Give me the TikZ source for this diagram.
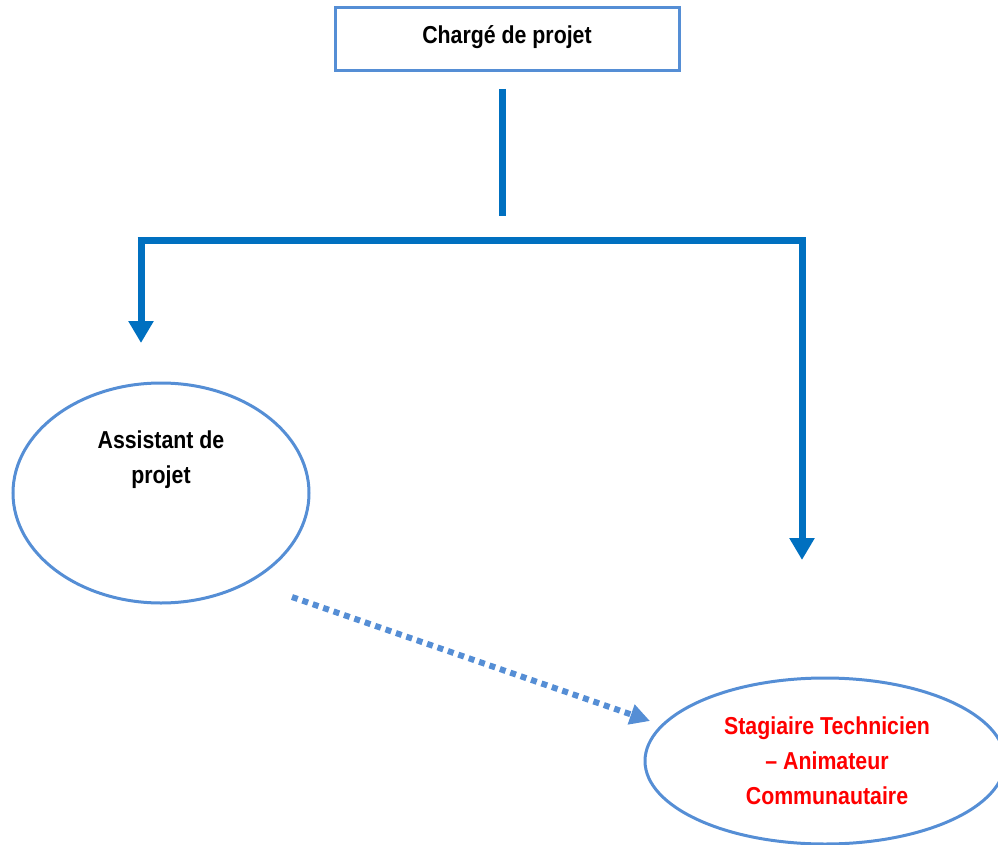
\documentclass[tikz,border=0pt]{standalone}
\usepackage{fontspec}
\newfontfamily\narrowfont{Liberation Sans}[FakeStretch=0.87]
\usetikzlibrary{arrows.meta,shapes.geometric}
\definecolor{boxblue}{RGB}{85,142,213}
\definecolor{linkblue}{RGB}{0,112,192}
\tikzset{
  lbl/.style={font=\narrowfont\bfseries\fontsize{24.5}{35}\selectfont, align=center, inner sep=0pt},
  oval/.style={ellipse, draw=boxblue, line width=3pt, inner sep=0pt},
  treeline/.style={draw=linkblue, line width=7pt},
  treearrow/.style={treeline, -{Triangle[width=24pt,length=22pt]}},
  dotarrow/.style={draw=boxblue, line width=6pt, dash pattern=on 6pt off 5pt, -{Triangle[width=20pt,length=20pt]}}
}
\begin{document}
\begin{tikzpicture}[x=1pt,y=-1pt]
\useasboundingbox (0,0) rectangle (998,845);
\node[draw=boxblue, line width=3pt, minimum width=344pt, minimum height=63pt, inner sep=0pt] (chef) at (507,39.5) {};
\node[lbl] (cheft) at (507,37) {Chargé de projet};
\node[oval, minimum width=296pt, minimum height=220pt] (assist) at (161,493) {};
\node[lbl] (assistt) at (161,460) {Assistant de\\projet};
\node[oval, minimum width=360pt, minimum height=166pt] (stag) at (825,761) {};
\node[lbl, text=red] (stagt) at (827,761) {Stagiaire Technicien\\– Animateur\\Communautaire};
\coordinate (top) at (502,89);
\coordinate (mid) at (502,216);
\coordinate (hl) at (141,240);
\coordinate (hr) at (802,240);
\coordinate (al) at (141,343);
\coordinate (ar) at (802,560);
\coordinate (ds) at (292,597);
\coordinate (de) at (650,721);
\draw[treeline] (top) -- (mid);
\draw[treeline] (137.5,240) -- (805.5,240);
\draw[treearrow] (hl) -- (al);
\draw[treearrow] (hr) -- (ar);
\draw[dotarrow] (ds) -- (de);
\end{tikzpicture}
\end{document}
